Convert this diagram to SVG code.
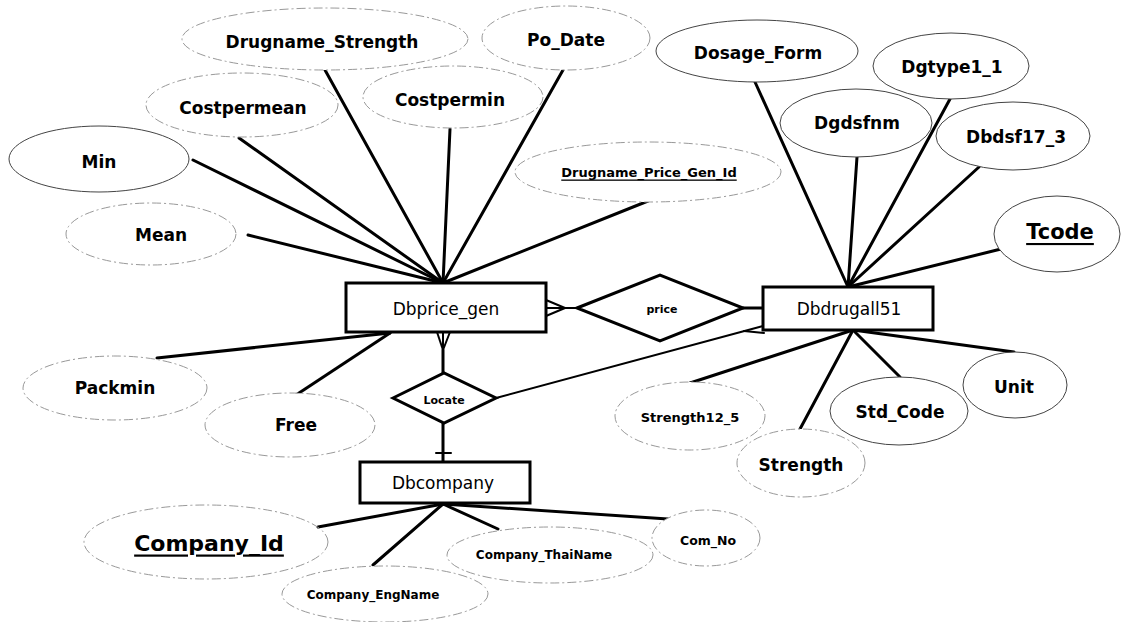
<svg xmlns="http://www.w3.org/2000/svg" width="1123" height="622" viewBox="0 0 1123 622">
<style>
.bg{fill:#fff}
.ln{stroke:#000;stroke-width:3;fill:none;stroke-linecap:round}
.ln2{stroke:#000;stroke-width:2;fill:none;stroke-linecap:round}
.att ellipse{fill:#fff;stroke:#444;stroke-width:1}
.att.f ellipse{stroke:#999;stroke-dasharray:9 3 2 3}
.att text{font-family:"DejaVu Sans",Verdana,sans-serif;font-weight:bold;font-size:17px;text-anchor:middle;dominant-baseline:central;fill:#000}
.ent rect{fill:#fff;stroke:#000;stroke-width:3}
.ent text{font-family:"DejaVu Sans",Verdana,sans-serif;font-size:17px;text-anchor:middle;dominant-baseline:central;fill:#000}
.rel polygon{fill:#fff;stroke:#000;stroke-width:3;stroke-linejoin:miter}
.rel text{font-family:"DejaVu Sans",Verdana,sans-serif;font-weight:bold;font-size:11px;text-anchor:middle;dominant-baseline:central;fill:#000}
.u{text-decoration:underline}
</style>
<rect class="bg" x="0" y="0" width="1123" height="622"/>
<g id="connectors">
<line class="ln" x1="193" y1="160" x2="443" y2="283"/>
<line class="ln" x1="248" y1="235" x2="443" y2="283"/>
<line class="ln" x1="239" y1="138" x2="443" y2="283"/>
<line class="ln" x1="325" y1="70" x2="443" y2="283"/>
<line class="ln" x1="450" y1="129" x2="443" y2="283"/>
<line class="ln" x1="563" y1="70" x2="443" y2="283"/>
<line class="ln" x1="648" y1="201" x2="443" y2="283"/>
<line class="ln" x1="157" y1="358" x2="390" y2="333"/>
<line class="ln" x1="296" y1="395" x2="390" y2="333"/>
<line class="ln2" x1="546" y1="300" x2="565" y2="308"/>
<line class="ln2" x1="546" y1="308" x2="577" y2="308"/>
<line class="ln2" x1="546" y1="316" x2="565" y2="308"/>
<line class="ln2" x1="437" y1="332" x2="443" y2="350"/>
<line class="ln2" x1="443" y1="332" x2="443" y2="350"/>
<line class="ln2" x1="450" y1="332" x2="443" y2="350"/>
<line class="ln" x1="443" y1="350" x2="443" y2="373"/>
<line class="ln" x1="443" y1="423" x2="443" y2="462"/>
<line class="ln2" x1="436" y1="453" x2="451" y2="453"/>
<line class="ln2" x1="496" y1="398" x2="763" y2="326"/>
<line class="ln2" x1="744" y1="331" x2="764" y2="333"/>
<line class="ln" x1="743" y1="308" x2="763" y2="308"/>
<line class="ln" x1="755" y1="82" x2="848" y2="287"/>
<line class="ln" x1="857" y1="157" x2="848" y2="287"/>
<line class="ln" x1="950" y1="99" x2="848" y2="287"/>
<line class="ln" x1="979" y1="167" x2="848" y2="287"/>
<line class="ln" x1="1001" y1="249" x2="848" y2="287"/>
<line class="ln" x1="690" y1="383" x2="853" y2="330"/>
<line class="ln" x1="800" y1="429" x2="853" y2="330"/>
<line class="ln" x1="900" y1="377" x2="853" y2="330"/>
<line class="ln" x1="1014" y1="352" x2="853" y2="330"/>
<line class="ln" x1="318" y1="527" x2="443" y2="504"/>
<line class="ln" x1="373" y1="565" x2="443" y2="504"/>
<line class="ln" x1="498" y1="529" x2="443" y2="504"/>
<line class="ln" x1="668" y1="519" x2="443" y2="504"/>
</g>
<g id="attr-drugname-strength" class="att f"><ellipse cx="325" cy="39" rx="143" ry="31"/><text x="322" y="42">Drugname_Strength</text></g>
<g id="attr-po-date" class="att f"><ellipse cx="566" cy="38" rx="84" ry="32"/><text x="566" y="40">Po_Date</text></g>
<g id="attr-costpermean" class="att f"><ellipse cx="242" cy="105" rx="96" ry="32"/><text x="243" y="108">Costpermean</text></g>
<g id="attr-costpermin" class="att f"><ellipse cx="453" cy="97" rx="90" ry="31"/><text x="450" y="100">Costpermin</text></g>
<g id="attr-min" class="att"><ellipse cx="99" cy="159" rx="90" ry="33"/><text x="99" y="162">Min</text></g>
<g id="attr-mean" class="att f"><ellipse cx="151" cy="234" rx="85" ry="31"/><text x="161" y="235">Mean</text></g>
<g id="attr-drugname-price-gen-id" class="att f"><ellipse cx="648" cy="172" rx="133" ry="30"/><text class="u" x="649" y="172" style="font-size:13px">Drugname_Price_Gen_Id</text></g>
<g id="attr-dosage-form" class="att"><ellipse cx="757" cy="51" rx="101" ry="31"/><text x="758" y="53">Dosage_Form</text></g>
<g id="attr-dgtype1-1" class="att"><ellipse cx="951" cy="66" rx="78" ry="33"/><text x="952" y="67">Dgtype1_1</text></g>
<g id="attr-dgdsfnm" class="att"><ellipse cx="856" cy="123" rx="76" ry="34"/><text x="857" y="123">Dgdsfnm</text></g>
<g id="attr-dbdsf17-3" class="att"><ellipse cx="1013" cy="136" rx="77" ry="34"/><text x="1016" y="137">Dbdsf17_3</text></g>
<g id="attr-tcode" class="att"><ellipse cx="1057" cy="234" rx="63" ry="38"/><text class="u" x="1060" y="232" style="font-size:21px">Tcode</text></g>
<g id="attr-packmin" class="att f"><ellipse cx="115" cy="388" rx="92" ry="32"/><text x="115" y="388">Packmin</text></g>
<g id="attr-free" class="att f"><ellipse cx="290" cy="425" rx="85" ry="32"/><text x="296" y="425">Free</text></g>
<g id="attr-company-engname" class="att f"><ellipse cx="385" cy="594" rx="103" ry="28"/><text x="373" y="595" style="font-size:12px">Company_EngName</text></g>
<g id="attr-company-id" class="att f"><ellipse cx="206" cy="542" rx="122" ry="37" style="fill:none"/><text class="u" x="209" y="543" style="font-size:22px">Company_Id</text></g>
<g id="attr-company-thainame" class="att f"><ellipse cx="550" cy="555" rx="103" ry="28"/><text x="544" y="555" style="font-size:12px">Company_ThaiName</text></g>
<g id="attr-com-no" class="att f"><ellipse cx="706" cy="538" rx="54" ry="28"/><text x="708" y="540" style="font-size:12.5px">Com_No</text></g>
<g id="attr-strength12-5" class="att f"><ellipse cx="690" cy="416" rx="75" ry="34"/><text x="690" y="417" style="font-size:13px">Strength12_5</text></g>
<g id="attr-strength" class="att f"><ellipse cx="801" cy="463" rx="64" ry="34"/><text x="801" y="465">Strength</text></g>
<g id="attr-std-code" class="att"><ellipse cx="899" cy="411" rx="69" ry="34"/><text x="900" y="412">Std_Code</text></g>
<g id="attr-unit" class="att"><ellipse cx="1015" cy="385" rx="52" ry="33"/><text x="1014" y="387">Unit</text></g>
<g id="ent-dbprice-gen" class="ent"><rect x="346" y="283" width="200" height="49"/><text x="446" y="309">Dbprice_gen</text></g>
<g id="ent-dbdrugall51" class="ent"><rect x="763" y="287" width="170" height="43"/><text x="849" y="309">Dbdrugall51</text></g>
<g id="ent-dbcompany" class="ent"><rect x="360" y="462" width="170" height="41"/><text x="443" y="483">Dbcompany</text></g>
<g id="rel-price" class="rel"><polygon points="577,308 660,275 743,308 660,341"/><text x="662" y="309">price</text></g>
<g id="rel-locate" class="rel"><polygon points="393,398 444,373 496,398 444,423"/><text x="444" y="400">Locate</text></g>
</svg>
